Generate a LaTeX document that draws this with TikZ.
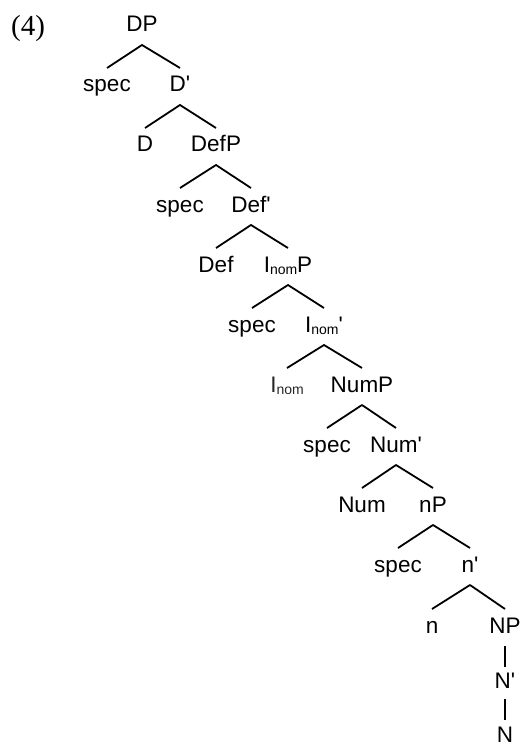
\documentclass[tikz,border=0pt]{standalone}
\usepackage{fontspec}
\setmainfont{Liberation Serif}
\newfontfamily\labfont{Liberation Sans}[Ligatures=TeXOff]
\newcommand\nomsub{{\fontsize{14}{14}\selectfont\raisebox{-2pt}{nom}}}
\tikzset{
  lab/.style={anchor=base, inner sep=0pt, font=\labfont\fontsize{22.5}{24}\selectfont},
  branch/.style={line width=1.8pt, line join=round},
  headlab/.style={lab, text=black!85},
}
% binary branching: parent, left daughter, right daughter
\newcommand\splitbranch[3]{%
  \draw[branch] ([yshift=24pt]#2.base) -- ([yshift=-13pt]#1.base) -- ([yshift=24pt]#3.base);}
\begin{document}
\begin{tikzpicture}[x=1pt,y=-1pt]
\useasboundingbox (0,0) rectangle (523,751);
\node[anchor=base west, inner sep=0pt, font=\fontsize{29}{30}\selectfont] (ex) at (11,36) {(4)};

\node[lab] (dp)    at (142,32)  {DP};
\node[lab] (spec1) at (107,92)  {spec};
\node[lab] (dbar)  at (180,92)  {D'};
\node[lab] (d)     at (145,152) {D};
\node[lab] (defp)  at (216,152) {DefP};
\node[lab] (spec2) at (180,212) {spec};
\node[lab] (defbar) at (251,212) {Def'};
\node[lab] (def)   at (216,272) {Def};
\node[lab] (inomp) at (288,272) {I\nomsub P};
\node[lab] (spec3) at (252,332) {spec};
\node[lab] (inombar) at (324,332) {I\nomsub'};
\node[headlab] (inom) at (287,392) {I\nomsub};
\node[lab] (nump)  at (362,392) {NumP};
\node[lab] (spec4) at (327,452) {spec};
\node[lab] (numbar) at (396,452) {Num'};
\node[lab] (num)   at (362,512) {Num};
\node[lab] (np)    at (433,512) {nP};
\node[lab] (spec5) at (398,572) {spec};
\node[lab] (nbar)  at (470,572) {n'};
\node[lab] (n)     at (432,633) {n};
\node[lab] (bigNP) at (505,633) {NP};
\node[lab] (bigNbar) at (505,688) {N'};
\node[lab] (bigN)  at (505,742) {N};

\splitbranch{dp}{spec1}{dbar}
\splitbranch{dbar}{d}{defp}
\splitbranch{defp}{spec2}{defbar}
\splitbranch{defbar}{def}{inomp}
\splitbranch{inomp}{spec3}{inombar}
\splitbranch{inombar}{inom}{nump}
\splitbranch{nump}{spec4}{numbar}
\splitbranch{numbar}{num}{np}
\splitbranch{np}{spec5}{nbar}
\splitbranch{nbar}{n}{bigNP}
\draw[branch] ([yshift=-13pt]bigNP.base) -- ([yshift=21pt]bigNbar.base);
\draw[branch] ([yshift=-11pt]bigNbar.base) -- ([yshift=22pt]bigN.base);
\end{tikzpicture}
\end{document}
